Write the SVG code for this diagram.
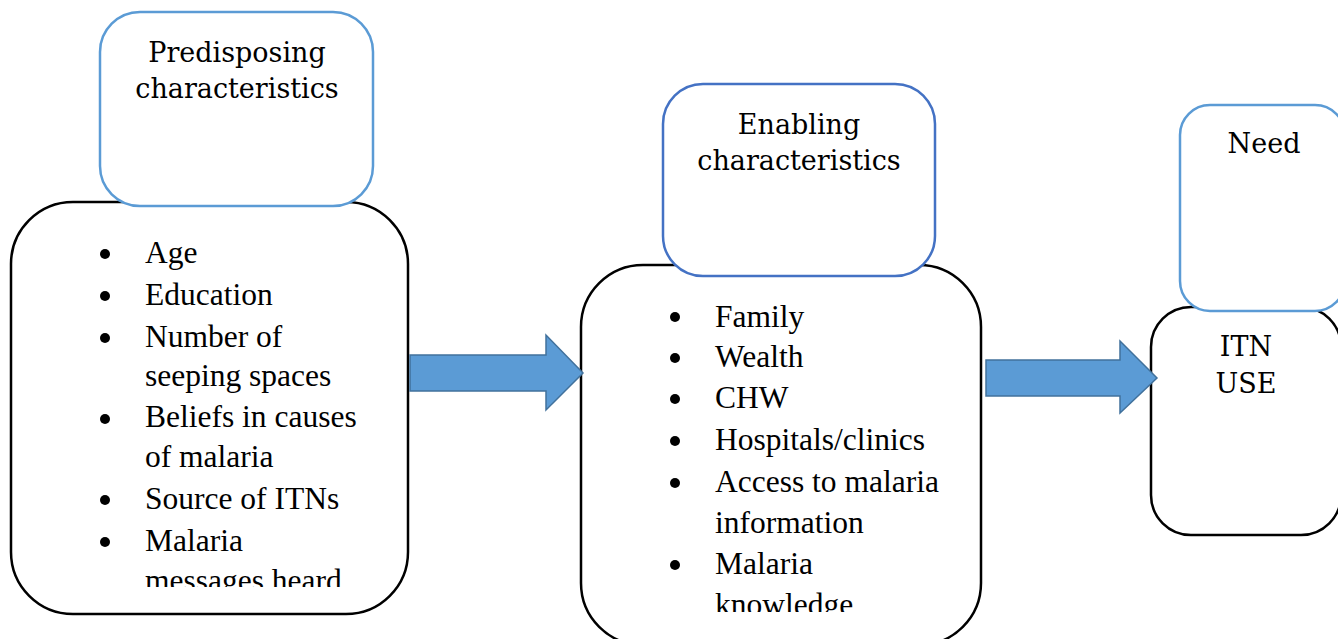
<svg xmlns="http://www.w3.org/2000/svg" width="1338" height="639" viewBox="0 0 1338 639">
<style>
.body{fill:#fff;stroke:#000;stroke-width:2.5}
.hdr1{fill:#fff;stroke:#5B9BD5;stroke-width:2.5}
.hdr2{fill:#fff;stroke:#4472C4;stroke-width:2.5}
.ttl{font-family:"DejaVu Serif","Liberation Serif",serif;font-size:27px;fill:#000;text-anchor:middle}
.li{font-family:"Liberation Serif","Times New Roman",serif;font-size:31.5px;fill:#000}
.arrow{fill:#5B9BD5;stroke:#41719C;stroke-width:1.5}
</style>
<defs>
<clipPath id="clipP"><rect x="20" y="220" width="380" height="367"/></clipPath>
<clipPath id="clipE"><rect x="590" y="290" width="380" height="322"/></clipPath>
</defs>
<rect width="1338" height="639" fill="#fff"/>

<g id="predisposing">
<rect class="body" x="11" y="202" width="397" height="412" rx="62" ry="62"/>
<rect class="hdr1" x="100" y="12" width="273" height="194" rx="40" ry="40"/>
<text class="ttl" x="237" y="62">Predisposing</text>
<text class="ttl" x="237" y="98">characteristics</text>
<g clip-path="url(#clipP)">
<circle cx="105" cy="254" r="5"/><text class="li" x="145" y="263">Age</text>
<circle cx="105" cy="296" r="5"/><text class="li" x="145" y="305">Education</text>
<circle cx="105" cy="338" r="5"/><text class="li" x="145" y="347">Number of</text>
<text class="li" x="145" y="386">seeping spaces</text>
<circle cx="105" cy="419" r="5"/><text class="li" x="145" y="427">Beliefs in causes</text>
<text class="li" x="145" y="467">of malaria</text>
<circle cx="105" cy="500" r="5"/><text class="li" x="145" y="509">Source of ITNs</text>
<circle cx="105" cy="542" r="5"/><text class="li" x="145" y="551">Malaria</text>
<text class="li" x="145" y="591">messages heard</text>
</g>
</g>

<g id="enabling">
<rect class="body" x="581" y="265" width="400" height="380" rx="62" ry="62"/>
<rect class="hdr2" x="663" y="84" width="272" height="192" rx="40" ry="40"/>
<text class="ttl" x="799" y="134">Enabling</text>
<text class="ttl" x="799" y="170">characteristics</text>
<g clip-path="url(#clipE)">
<circle cx="675" cy="317" r="5"/><text class="li" x="715" y="327">Family</text>
<circle cx="675" cy="358" r="5"/><text class="li" x="715" y="367">Wealth</text>
<circle cx="675" cy="399" r="5"/><text class="li" x="715" y="408">CHW</text>
<circle cx="675" cy="441" r="5"/><text class="li" x="715" y="450">Hospitals/clinics</text>
<circle cx="675" cy="483" r="5"/><text class="li" x="715" y="492">Access to malaria</text>
<text class="li" x="715" y="533">information</text>
<circle cx="675" cy="565" r="5"/><text class="li" x="715" y="574">Malaria</text>
<text class="li" x="715" y="615">knowledge</text>
</g>
</g>

<g id="itn-use">
<rect class="body" x="1151" y="307" width="190" height="228" rx="40" ry="40"/>
<rect class="hdr1" x="1180" y="105" width="165" height="206" rx="30" ry="30"/>
<text class="ttl" x="1264" y="153">Need</text>
<text class="ttl" x="1246" y="356">ITN</text>
<text class="ttl" x="1246" y="393">USE</text>
</g>

<g id="connectors">
<polygon class="arrow" points="410,355 546,355 546,335 583,373 546,410 546,391 410,391"/>
<polygon class="arrow" points="986,360 1120,360 1120,341 1157,378 1120,413 1120,396 986,396"/>
</g>
</svg>
